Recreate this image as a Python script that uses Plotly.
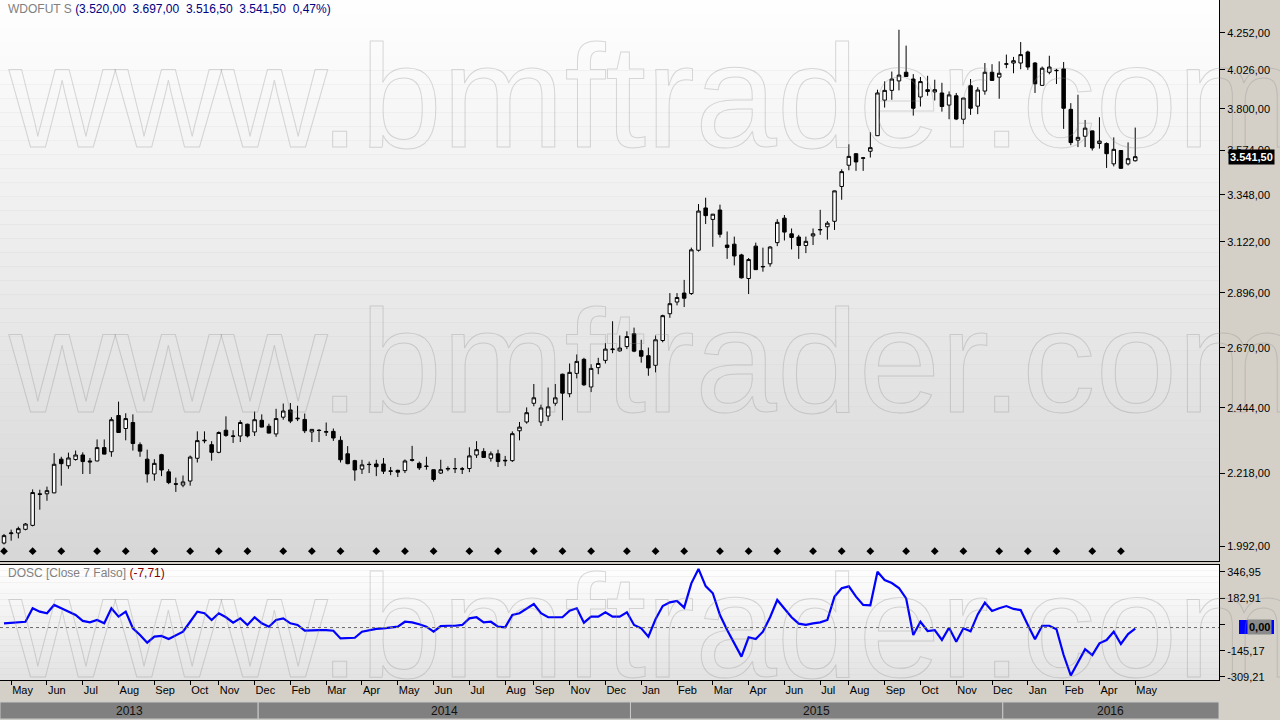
import math
import plotly.graph_objects as go

# ---------------- data (weekly WDOFUT candles, May 2013 - May 2016) ----------------
opens = [2001, 2029, 2031, 2042, 2054, 2152, 2152, 2155, 2265, 2243,
         2264, 2279, 2259, 2259, 2304, 2290, 2416, 2370, 2391, 2314,
         2265, 2216, 2280, 2223, 2184, 2180, 2193, 2268, 2327, 2314,
         2288, 2364, 2344, 2344, 2385, 2358, 2399, 2378, 2351, 2410,
         2436, 2404, 2402, 2358, 2364, 2357, 2360, 2329, 2283, 2260,
         2232, 2248, 2249, 2249, 2226, 2228, 2227, 2261, 2251, 2242,
         2230, 2219, 2232, 2233, 2233, 2234, 2279, 2291, 2268, 2283,
         2259, 2260, 2362, 2393, 2460, 2393, 2414, 2460, 2568, 2495,
         2571, 2625, 2520, 2593, 2621, 2663, 2658, 2675, 2726, 2659,
         2639, 2602, 2699, 2808, 2857, 2895, 2893, 3084, 3283, 3228,
         3273, 3108, 3112, 3063, 2958, 3103, 3009, 3023, 3119, 3234,
         3160, 3145, 3106, 3150, 3178, 3193, 3219, 3389, 3497, 3557,
         3533, 3570, 3653, 3850, 3906, 3961, 4012, 3972, 3868, 3910,
         3897, 3891, 3822, 3875, 3743, 3933, 3816, 3902, 4012, 3983,
         4060, 4067, 4067, 4134, 4067, 3935, 4012, 4021, 4032, 3798,
         3629, 3650, 3679, 3611, 3611, 3504, 3574, 3504, 3520]
highs = [2028, 2041, 2050, 2061, 2166, 2165, 2175, 2285, 2273, 2287,
         2294, 2288, 2269, 2332, 2332, 2410, 2466, 2424, 2420, 2322,
         2297, 2265, 2283, 2232, 2204, 2211, 2277, 2360, 2360, 2326,
         2360, 2413, 2364, 2399, 2387, 2430, 2420, 2387, 2440, 2459,
         2461, 2451, 2423, 2368, 2368, 2391, 2370, 2343, 2309, 2263,
         2263, 2257, 2263, 2269, 2239, 2230, 2264, 2310, 2257, 2273,
         2231, 2263, 2241, 2269, 2239, 2305, 2326, 2302, 2291, 2297,
         2276, 2360, 2393, 2445, 2531, 2455, 2518, 2531, 2570, 2609,
         2644, 2631, 2606, 2631, 2689, 2777, 2719, 2736, 2751, 2702,
         2671, 2719, 2804, 2895, 2895, 2952, 3096, 3302, 3333, 3254,
         3299, 3171, 3147, 3068, 3049, 3119, 3096, 3103, 3229, 3249,
         3185, 3155, 3147, 3185, 3274, 3220, 3368, 3476, 3607, 3560,
         3540, 3672, 3910, 3958, 4016, 4272, 4173, 4001, 3984, 3991,
         3968, 3950, 3900, 3891, 3863, 3972, 3924, 4067, 4060, 4077,
         4118, 4104, 4195, 4142, 4073, 4046, 4111, 4032, 4073, 3833,
         3881, 3739, 3681, 3754, 3617, 3644, 3576, 3617, 3697]
lows = [1997, 2008, 2015, 2039, 2051, 2102, 2130, 2154, 2178, 2233,
        2260, 2216, 2216, 2258, 2281, 2273, 2355, 2329, 2294, 2273,
        2188, 2194, 2209, 2183, 2158, 2173, 2178, 2254, 2319, 2260,
        2285, 2341, 2320, 2323, 2339, 2344, 2374, 2353, 2341, 2401,
        2389, 2396, 2354, 2323, 2323, 2344, 2327, 2254, 2248, 2194,
        2216, 2219, 2209, 2216, 2212, 2206, 2219, 2257, 2229, 2230,
        2191, 2216, 2225, 2219, 2216, 2222, 2269, 2270, 2257, 2239,
        2242, 2256, 2329, 2387, 2449, 2379, 2396, 2451, 2399, 2482,
        2552, 2524, 2501, 2568, 2609, 2649, 2655, 2665, 2653, 2612,
        2562, 2575, 2692, 2791, 2843, 2836, 2887, 3078, 3206, 3100,
        3143, 3045, 3016, 2958, 2891, 2996, 2988, 3010, 3103, 3129,
        3088, 3045, 3071, 3108, 3155, 3133, 3178, 3323, 3471, 3468,
        3468, 3537, 3652, 3808, 3852, 3906, 3985, 3763, 3814, 3875,
        3848, 3785, 3743, 3738, 3716, 3767, 3771, 3881, 3962, 3858,
        4036, 4006, 4030, 4026, 3891, 3934, 4000, 3943, 3690, 3602,
        3592, 3592, 3574, 3584, 3483, 3491, 3478, 3496, 3516.5]
closes = [2023, 2031, 2044, 2058, 2156, 2150, 2162, 2248, 2250, 2269,
          2279, 2257, 2256, 2304, 2282, 2401, 2356, 2405, 2318, 2292,
          2216, 2251, 2229, 2188, 2183, 2190, 2272, 2328, 2329, 2288,
          2356, 2346, 2343, 2391, 2344, 2401, 2375, 2354, 2405, 2432,
          2396, 2406, 2362, 2367, 2363, 2359, 2337, 2263, 2250, 2229,
          2246, 2247, 2240, 2225, 2225, 2222, 2259, 2263, 2236, 2241,
          2198, 2230, 2234, 2234, 2232, 2276, 2297, 2271, 2283, 2257,
          2261, 2352, 2375, 2426, 2480, 2443, 2447, 2480, 2497, 2575,
          2617, 2528, 2590, 2609, 2665, 2665, 2669, 2715, 2657, 2637,
          2592, 2702, 2800, 2850, 2876, 2873, 3086, 3268, 3246, 3253,
          3158, 3097, 3058, 2961, 3042, 2997, 3011, 3099, 3214, 3168,
          3143, 3106, 3125, 3160, 3180, 3210, 3367, 3464, 3543, 3514,
          3535, 3589, 3891, 3906, 3972, 3995, 3987, 3804, 3957, 3900,
          3910, 3814, 3880, 3744, 3862, 3804, 3908, 4012, 3964, 4006,
          4062, 4081, 4118, 4043, 3944, 4036, 4043, 4023, 3804, 3616,
          3644, 3694, 3587, 3624, 3557, 3580, 3481, 3531, 3541.5]
dosc = [26, 30, 34, 36, 120, 99, 89, 141, 120, 99,
        78, 41, 32, 47, 26, 120, 68, 99, -5, -47,
        -95, -57, -53, -72, -47, -26, 36, 99, 89, 47,
        89, 64, 30, 57, 16, 64, 26, 5, 47, 57,
        26, 16, -20, -16, -16, -16, -20, -68, -66, -64,
        -26, -16, -9, -5, -1, 5, 36, 32, 20, 5,
        -26, 9, 11, 11, 16, 57, 64, 32, 36, 5,
        1, 78, 89, 120, 147, 89, 64, 64, 64, 105,
        120, 30, 68, 68, 95, 68, 68, 95, 16, -5,
        -57, 51, 134, 157, 166, 124, 276, 366, 259, 214,
        78, -16, -103, -182, -61, -72, -26, 64, 172, 120,
        64, 24, 16, 26, 32, 47, 193, 245, 257, 193,
        141, 139, 349, 297, 278, 247, 182, -47, 36, -22,
        -16, -78, -1, -89, -5, -24, 82, 155, 103, 120,
        134, 116, 109, 16, -74, 11, 11, -11, -172, -300,
        -214, -136, -172, -99, -78, -26, -103, -41, -7.71]
weeks = list(range(len(closes)))

month_ticks = [1, 6, 11, 16, 21, 26, 30, 35, 40, 45, 50, 55, 60, 65, 70, 74, 79,
               84, 89, 94, 99, 104, 109, 114, 118, 123, 128, 133, 138, 143, 148, 153, 158]
month_labels = ["May", "Jun", "Jul", "Aug", "Sep", "Oct", "Nov", "Dec", "Feb", "Mar",
                "Apr", "May", "Jun", "Jul", "Aug", "Sep", "Nov", "Dec", "Jan", "Feb",
                "Mar", "Apr", "Jun", "Jul", "Aug", "Sep", "Oct", "Nov", "Dec", "Jan",
                "Feb", "Apr", "May"]
year_labels = ["2013", "2014", "2015", "2016"]
year_edges = [-0.56, 35.5, 87.5, 139.5, 169.7]

marker_weeks = [0, 4, 8, 13, 17, 21, 26, 30, 34, 39, 43, 47, 52, 56, 60, 65, 69, 74, 78,
                82, 87, 91, 95, 100, 104, 108, 113, 117, 121, 126, 130, 134, 139, 143,
                147, 152, 156]
marker_level = 1977

price_ticks = [1992, 2218, 2444, 2670, 2896, 3122, 3348, 3574, 3800, 4026, 4252]
osc_ticks = [346.95, 182.91, 18.87, -145.17, -309.21]
last_price = 3541.5
osc_last = -7.71


def br(v):
    s = f"{v:,.2f}"
    return s.replace(",", "X").replace(".", ",").replace("X", ".")


# ---------------- geometry ----------------
W, H = 1280, 720
PR = 1219          # plot right edge (px)
PB = 680           # plot bottom (px)
MAIN_BOTTOM = 561
LOW_TOP = 565
PH = PB            # plot height in px (t=0)


def py(pix):       # pixel y -> paper y
    return (PB - pix) / PH


def px(pix):       # pixel x -> paper x
    return pix / PR


FONT = "Liberation Sans"

fig = go.Figure()

fig.add_trace(go.Candlestick(
    x=weeks, open=opens, high=highs, low=lows, close=closes,
    increasing=dict(fillcolor="white", line=dict(color="black", width=1)),
    decreasing=dict(fillcolor="black", line=dict(color="black", width=1)),
    whiskerwidth=0, xaxis="x", yaxis="y", showlegend=False, hoverinfo="skip"))

fig.add_trace(go.Scatter(
    x=marker_weeks, y=[marker_level] * len(marker_weeks), mode="markers",
    marker=dict(symbol="diamond", size=6, color="black"),
    xaxis="x", yaxis="y", showlegend=False, hoverinfo="skip"))

fig.add_trace(go.Scatter(
    x=weeks, y=dosc, mode="lines", line=dict(color="#0000ff", width=2.2),
    xaxis="x2", yaxis="y2", showlegend=False, hoverinfo="skip"))

shapes = []
# gradient backgrounds
N = 40
for k in range(N):
    t = (k + 0.5) / N
    g = int(round(255 - t * (255 - 214)))
    y1 = py(0 + k * MAIN_BOTTOM / N)
    y0 = py(0 + (k + 1) * MAIN_BOTTOM / N)
    shapes.append(dict(type="rect", xref="paper", yref="paper", x0=0, x1=1, y0=y0, y1=y1,
                       fillcolor=f"rgb({g},{g},{g})", line=dict(width=0), layer="below"))
for k in range(20):
    t = (k + 0.5) / 20
    g = int(round(255 - t * (255 - 226)))
    top = LOW_TOP + k * (PB - LOW_TOP) / 20
    bot = LOW_TOP + (k + 1) * (PB - LOW_TOP) / 20
    shapes.append(dict(type="rect", xref="paper", yref="paper", x0=0, x1=1, y0=py(bot), y1=py(top),
                       fillcolor=f"rgb({g},{g},{g})", line=dict(width=0), layer="below"))

# zero dashed line in oscillator
shapes.append(dict(type="line", xref="paper", yref="y2", x0=0, x1=1, y0=0, y1=0,
                   line=dict(color="#707070", width=1, dash="dot")))

# year band
for i, lab in enumerate(year_labels):
    shapes.append(dict(type="rect", xref="x2", yref="paper",
                       x0=year_edges[i], x1=year_edges[i + 1], y0=py(719), y1=py(702),
                       fillcolor="#808080", line=dict(color="#c8c8c8", width=1)))

# blue value tag behind the zero tag
shapes.append(dict(type="rect", xref="paper", yref="paper", x0=px(1239), x1=px(1274),
                   y0=py(634), y1=py(620), fillcolor="#0000ff", line=dict(width=0), layer="above"))

annotations = []
# watermarks (outlined via post script)
wm = "www.bmftrader.com"
WM_SIZE = 147
wm_font = dict(family=FONT, size=WM_SIZE, color="rgba(255,255,255,0.0)")
for base in (147, 412, 677):
    annotations.append(dict(text=wm, xref="paper", yref="paper", x=px(6),
                            y=py(base - 0.35 * WM_SIZE),
                            xanchor="left", yanchor="middle", showarrow=False, font=wm_font))

nb = "\u00a0"
title_vals = (f"({br(opens[-1])}{nb}{nb}{br(highs[-1])}{nb}{nb}{br(lows[-1])}{nb}{nb}"
              f"{br(closes[-1])}{nb}{nb}0,47%)")
annotations.append(dict(
    text=f'<span style="color:#808080">WDOFUT S</span> <span style="color:#000080">{title_vals}</span>',
    xref="paper", yref="paper", x=px(6), y=py(9), xanchor="left", yanchor="middle",
    showarrow=False, font=dict(family=FONT, size=12)))
annotations.append(dict(
    text=f'<span style="color:#808080">DOSC [Close 7 Falso]</span> <span style="color:#800000">({br(osc_last)})</span>',
    xref="paper", yref="paper", x=px(6), y=py(573), xanchor="left", yanchor="middle",
    showarrow=False, font=dict(family=FONT, size=12)))

# last price tag
annotations.append(dict(text=f"<b>{br(last_price)}</b>", xref="paper", yref="y",
                        x=px(1251), y=math.log10(last_price), xanchor="center", yanchor="middle",
                        showarrow=False, bgcolor="black", font=dict(family=FONT, size=11, color="white"),
                        borderpad=1))
# zero tag
annotations.append(dict(text="<b>0,00</b>", xref="paper", yref="paper",
                        x=px(1259), y=py(627), xanchor="center", yanchor="middle",
                        showarrow=False, bgcolor="#8a8a8a", font=dict(family=FONT, size=11, color="black"),
                        borderpad=1))
# year labels
for i, lab in enumerate(year_labels):
    annotations.append(dict(text=lab, xref="x2", yref="paper",
                            x=(year_edges[i] + year_edges[i + 1]) / 2, y=py(710.5),
                            xanchor="center", yanchor="middle", showarrow=False,
                            font=dict(family=FONT, size=12, color="#111111")))

tickfont = dict(family=FONT, size=11, color="black")
xr = [year_edges[0], year_edges[-1]]

fig.update_layout(
    width=W, height=H, margin=dict(l=0, r=W - PR, t=0, b=H - PB, autoexpand=False),
    paper_bgcolor="#d4d0c8", plot_bgcolor="rgba(0,0,0,0)", showlegend=False,
    xaxis=dict(domain=[0, 1], range=xr, anchor="y", showticklabels=False, ticks="",
               showgrid=False, zeroline=False, showline=True, linecolor="black", linewidth=1,
               rangeslider=dict(visible=False)),
    yaxis=dict(domain=[py(MAIN_BOTTOM), 1], type="log",
               range=[math.log10(1948.6), math.log10(4464)], side="right", anchor="x",
               tickvals=price_ticks, ticktext=[br(v) for v in price_ticks],
               ticks="outside", ticklen=5, tickcolor="black", showgrid=False, zeroline=False,
               showline=True, linecolor="black", linewidth=1, tickfont=tickfont),
    xaxis2=dict(domain=[0, 1], range=xr, anchor="y2", matches="x",
                tickvals=month_ticks, ticktext=month_labels, ticks="outside", ticklen=4,
                tickcolor="black", ticklabelposition="outside right", showgrid=False, zeroline=False,
                showline=True, mirror=True, linecolor="black", linewidth=1, tickfont=tickfont),
    yaxis2=dict(domain=[0, py(LOW_TOP)], range=[-328.1, 390.6], side="right", anchor="x2",
                tickvals=osc_ticks, ticktext=[br(v) if abs(v) > 20 else "" for v in osc_ticks],
                ticks="outside", ticklen=5, tickcolor="black", showgrid=False, zeroline=False,
                showline=True, linecolor="black", linewidth=1, tickfont=tickfont),
    shapes=shapes, annotations=annotations,
)

post = """
document.body.style.margin = '0';
document.body.style.overflow = 'hidden';
var gd = document.getElementById('{plot_id}');
function outlineWatermarks() {
  gd.querySelectorAll('.annotation-text').forEach(function (t) {
    if (t.textContent.indexOf('bmftrader') >= 0) {
      t.style.fill = 'none';
      t.style.stroke = 'rgba(140,140,140,0.32)';
      t.style.strokeWidth = '1px';
    }
  });
}
outlineWatermarks();
gd.on('plotly_afterplot', outlineWatermarks);
"""

fig.write_html("out.html", post_script=post, config={"displayModeBar": False})
